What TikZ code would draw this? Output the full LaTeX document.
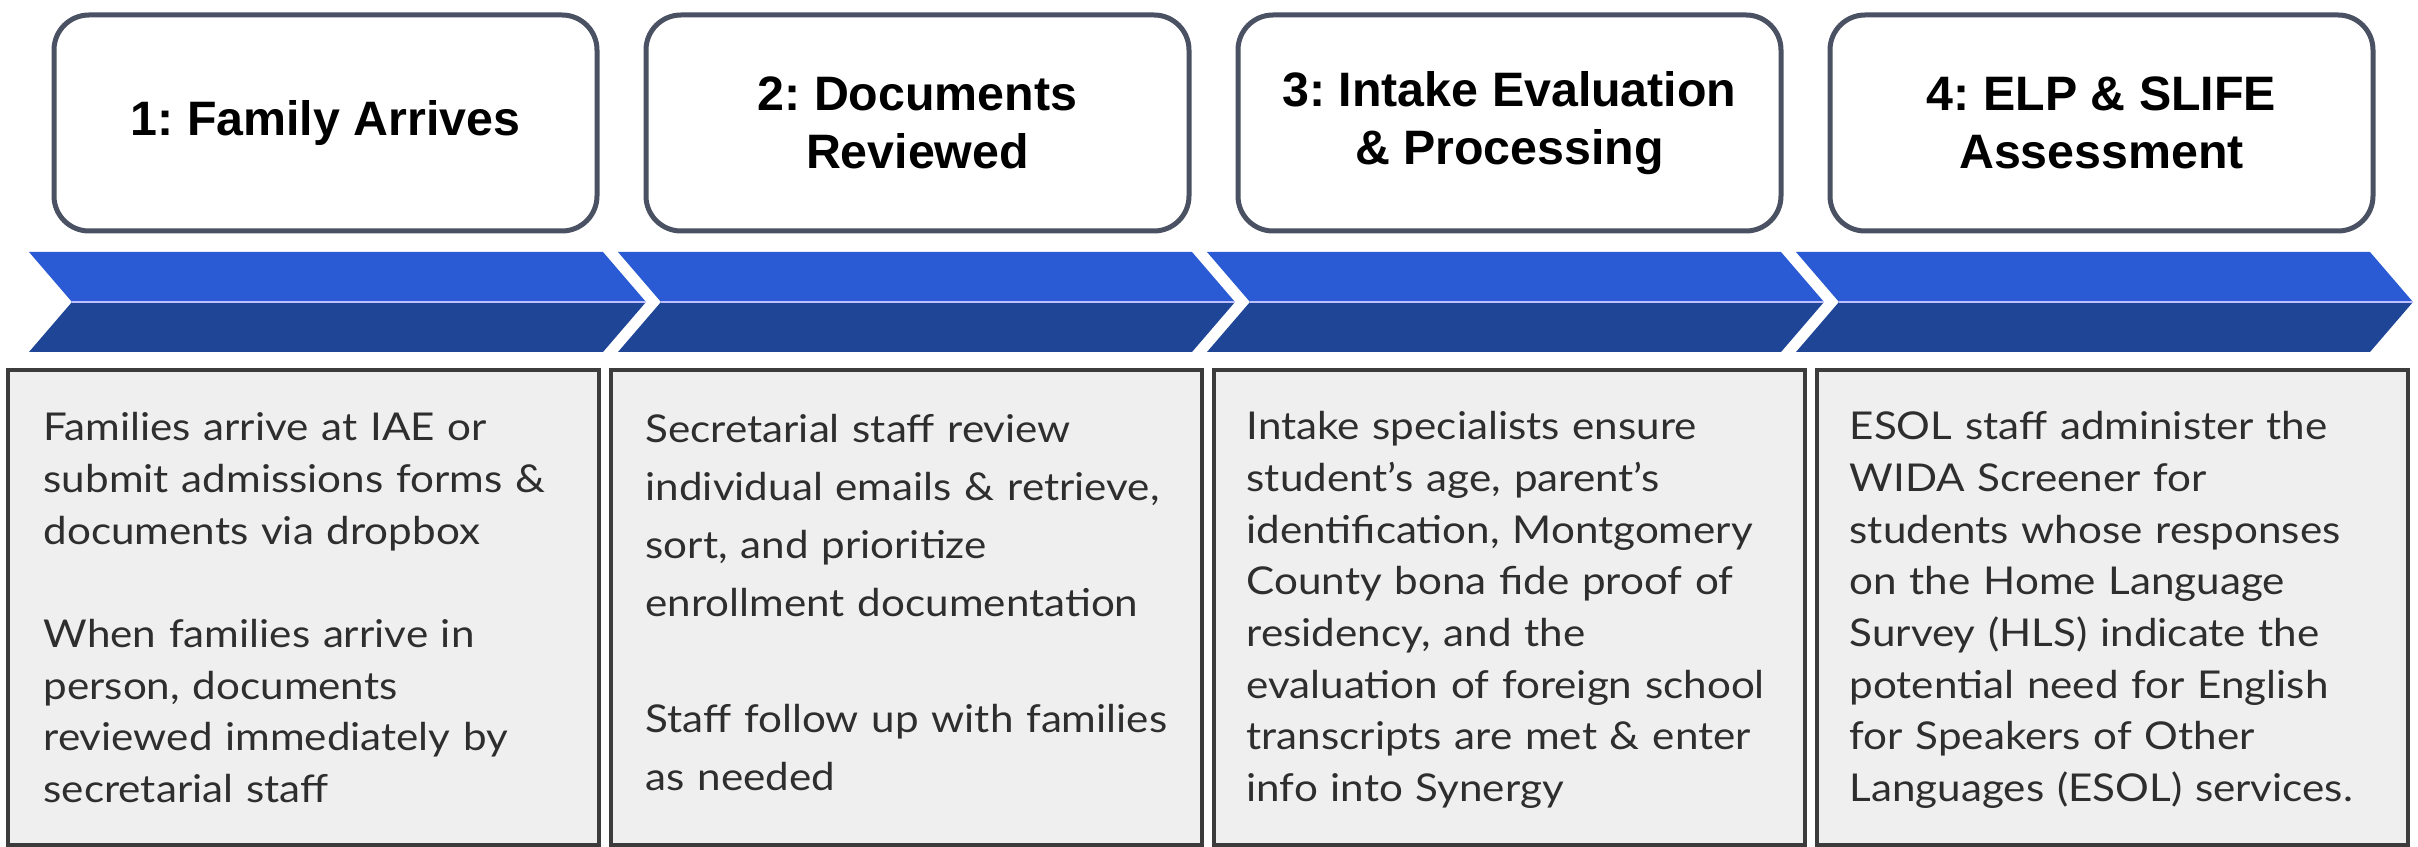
\documentclass[tikz,border=0pt]{standalone}
\usepackage{fontspec}
\setmainfont{Lato}[FakeStretch=1.1]
\newfontfamily\headfont{Liberation Sans}
\frenchspacing
\definecolor{chevtop}{HTML}{2B5BD4}
\definecolor{chevbot}{HTML}{1F4597}
\definecolor{stepline}{HTML}{4A5162}
\definecolor{notebg}{HTML}{EFEFEF}
\definecolor{noteline}{HTML}{3C3C3C}
\definecolor{notetxt}{HTML}{2E2E2E}
\tikzstyle{stepbox} = [draw=stepline, line width=1.5pt, rounded corners=10.5pt, fill=white, minimum width=162.9pt, minimum height=64.8pt, align=center, font=\headfont\bfseries\fontsize{14.5}{17.4}\selectfont]
\tikzstyle{notebox} = [draw=noteline, line width=1pt, fill=notebg, minimum width=177.3pt, minimum height=142.5pt]
\tikzstyle{notetext} = [text=notetxt, text width=174pt, align=left, inner sep=0pt, anchor=base west, font=\fontsize{11.5}{15.5}\selectfont]
\tikzstyle{chevsep} = [draw=blue!25!white, line width=0.8pt]
\newcommand{\chev}[1]{%
	\fill[chevtop] (#1,252) -- ({#1+574},252) -- ({#1+617},302) -- ({#1+43},302) -- cycle;%
	\fill[chevbot] ({#1+43},302) -- ({#1+617},302) -- ({#1+574},352) -- (#1,352) -- cycle;%
	\draw[chevsep] ({#1+43},302) -- ({#1+617},302);}

\begin{document}
\begin{tikzpicture}[x=0.3pt, y=-0.3pt]%
	\useasboundingbox (0,0) rectangle (2418,847);%
	% step headers
	\node[stepbox] (s1) at (325.5,123) {1: Family Arrives};%
	\node[stepbox] (s2) at (917.5,123) {2: Documents\\Reviewed};%
	\node[stepbox] (s3) at (1509.5,123) {3: Intake Evaluation\\\& Processing};%
	\node[stepbox] (s4) at (2101.5,123) {4: ELP \& SLIFE\\Assessment};%
	% arrow band
	\foreach \cx in {29,618,1207,1796} {\chev{\cx}}%
	% detail boxes
	\node[notebox] (n1) at (303.5,607.5) {};%
	\node[notebox] (n2) at (906.5,607.5) {};%
	\node[notebox] (n3) at (1509.5,607.5) {};%
	\node[notebox] (n4) at (2112.5,607.5) {};%
	\node[notetext] (t1) at (43,441) {Families arrive at IAE or\\submit admissions forms \&\\documents via dropbox\\[\baselineskip]When families arrive in\\person, documents\\reviewed immediately by\\secretarial staff};%
	\node[notetext, font=\fontsize{11.5}{17.4}\selectfont] (t2) at (645,443) {Secretarial staff review\\individual emails \& retrieve,\\sort, and prioritize\\enrollment documentation\\[\baselineskip]Staff follow up with families\\as needed};%
	\node[notetext] (t3) at (1246,440) {Intake specialists ensure\\student’s age, parent’s\\identification, Montgomery\\County bona fide proof of\\residency, and the\\evaluation of foreign school\\transcripts are met \& enter\\info into Synergy};%
	\node[notetext] (t4) at (1849,440) {ESOL staff administer the\\WIDA Screener for\\students whose responses\\on the Home Language\\Survey (HLS) indicate the\\potential need for English\\for Speakers of Other\\Languages (ESOL) services.};%
\end{tikzpicture}
\end{document}
